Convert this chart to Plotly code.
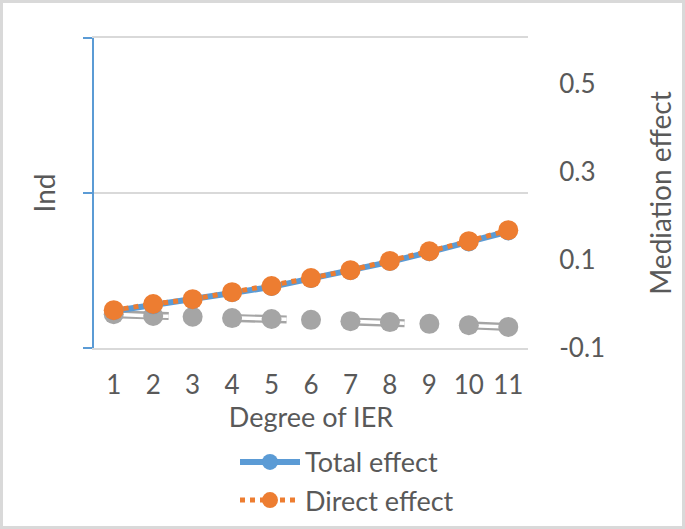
import plotly.graph_objects as go

degrees = [1, 2, 3, 4, 5, 6, 7, 8, 9, 10, 11]
total_effect = [-0.016, -0.003, 0.009, 0.025, 0.039, 0.057, 0.075, 0.096, 0.118, 0.140, 0.165]
direct_effect = [-0.014, 0.000, 0.011, 0.027, 0.041, 0.059, 0.077, 0.098, 0.120, 0.143, 0.168]
indirect_effect = [-0.023, -0.027, -0.029, -0.032, -0.034, -0.036, -0.039, -0.041, -0.045, -0.048, -0.052]
right_ticks = [-0.1, 0.1, 0.3, 0.5]

BLUE = "#5b9bd5"
ORANGE = "#ed7d31"
GRAY = "#a5a5a5"
TXT = "#595959"
FONT = "Lato"

fig = go.Figure()
# dummy trace so the left axis subplot exists
fig.add_trace(go.Scatter(x=[None], y=[None], yaxis="y", showlegend=False, hoverinfo="skip"))

# Indirect effect: gray markers with outlined dashed line
fig.add_trace(go.Scatter(x=degrees, y=indirect_effect, yaxis="y2", mode="lines",
                         line=dict(color=GRAY, width=8, dash="55px,63px"),
                         showlegend=False, hoverinfo="skip"))
fig.add_trace(go.Scatter(x=degrees, y=indirect_effect, yaxis="y2", mode="lines",
                         line=dict(color="white", width=3.5, dash="55px,63px"),
                         showlegend=False, hoverinfo="skip"))
fig.add_trace(go.Scatter(x=degrees, y=indirect_effect, yaxis="y2", mode="markers",
                         marker=dict(color=GRAY, size=20), name="Indirect effect",
                         showlegend=False))

fig.add_trace(go.Scatter(x=degrees, y=total_effect, yaxis="y2", mode="lines+markers",
                         name="Total effect",
                         line=dict(color=BLUE, width=6),
                         marker=dict(color=BLUE, size=18)))
fig.add_trace(go.Scatter(x=degrees, y=direct_effect, yaxis="y2", mode="lines+markers",
                         name="Direct effect",
                         line=dict(color=ORANGE, width=5, dash="dot"),
                         marker=dict(color=ORANGE, size=20)))

L, R, T, B = 94, 157, 38, 181
W, H = 685, 529
pw, ph = W - L - R, H - T - B

fig.update_layout(
    width=W, height=H,
    margin=dict(l=L, r=R, t=T, b=B, autoexpand=False),
    paper_bgcolor="white", plot_bgcolor="white",
    font=dict(family=FONT, size=27, color=TXT),
    xaxis=dict(range=[0.5, 11.5], tickvals=degrees, ticktext=[str(d) for d in degrees],
               showgrid=False, zeroline=False, showline=True, mirror=True,
               linecolor="#d9d9d9", linewidth=2,
               ticks="outside", ticklen=13, tickcolor="rgba(0,0,0,0)",
               tickfont=dict(size=26, color=TXT),
               title=dict(text="Degree of IER", font=dict(size=27, color=TXT), standoff=9)),
    yaxis=dict(range=[0, 2], tickvals=[0, 1, 2], showticklabels=False,
               showgrid=True, gridcolor="#d9d9d9", gridwidth=2, zeroline=False,
               showline=True, linecolor=BLUE, linewidth=2,
               ticks="outside", ticklen=9, tickcolor=BLUE, tickwidth=2,
               title=dict(text="Ind", font=dict(size=28, color=TXT), standoff=19)),
    yaxis2=dict(range=[-0.1, 0.605], tickvals=right_ticks,
                ticktext=[f"{v:.1f}" for v in right_ticks],
                overlaying="y", side="right", showgrid=False, zeroline=False,
                showline=False, ticks="outside", ticklen=25, tickcolor="rgba(0,0,0,0)",
                tickfont=dict(size=26, color=TXT),
                title=dict(text="Mediation effect", font=dict(size=28, color=TXT), standoff=47)),
    legend=dict(orientation="v", x=(235 - L) / pw, xanchor="left", y=-0.29, yanchor="top",
                font=dict(size=27, color=TXT), bgcolor="rgba(0,0,0,0)", itemwidth=60,
                tracegroupgap=0),
    showlegend=True,
    shapes=[dict(type="rect", xref="paper", yref="paper",
                 x0=-(L - 1.5) / pw, x1=(W - L - 1.5) / pw,
                 y0=-(B - 1.5) / ph, y1=1 + (T - 1.5) / ph,
                 line=dict(color="#d9d9d9", width=3), layer="below")],
)

fig.write_html(
    "out.html",
    config={"displayModeBar": False, "responsive": False},
    post_script=(
        "document.documentElement.style.margin='0';"
        "document.documentElement.style.overflow='hidden';"
        "document.body.style.margin='0';"
        "document.body.style.padding='0';"
        "document.body.style.overflow='hidden';"
    ),
)
